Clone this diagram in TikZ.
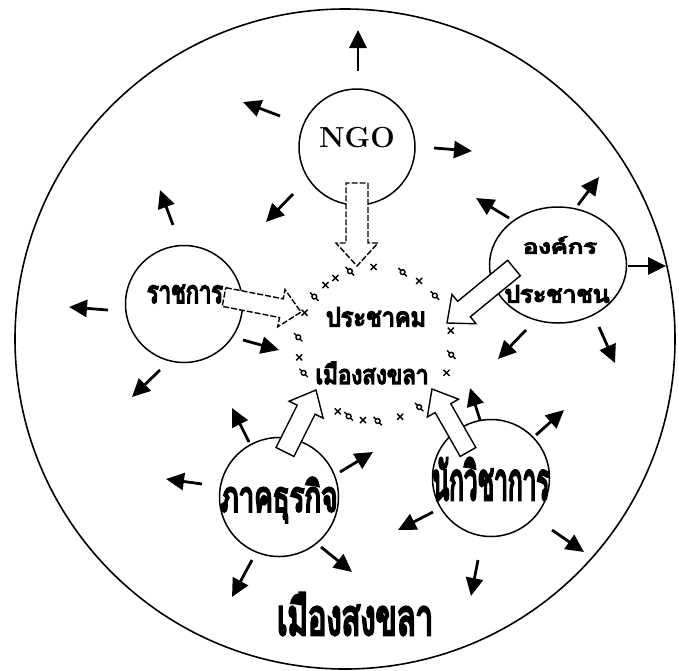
\documentclass[tikz,border=0pt]{standalone}
\usepackage{fontspec}
\usepackage{graphicx}
\usetikzlibrary{arrows.meta,calc,shapes.geometric}
\newfontfamily\thaifont[Script=Thai, FakeBold=6]{Loma}
\newcommand{\thl}[3]{\resizebox{#1pt}{#2pt}{\thaifont #3}}
\newcommand{\hollowarr}[6][]{%
  \coordinate (hb) at ($(#3)!#6!(#2)$);
  \draw[blockarr,#1] ($(#2)!#4!90:(#3)$) -- ($(hb)!#4!90:(#3)$) -- ($(hb)!#5!90:(#3)$) -- (#3)
    -- ($(hb)!#5!-90:(#3)$) -- ($(hb)!#4!-90:(#3)$) -- ($(#2)!#4!-90:(#3)$) -- cycle;
}
\tikzset{
  org/.style={draw, circle, line width=1.5pt, inner sep=0pt},
  outarr/.style={line width=2.8pt, -{Triangle[length=18pt,width=17pt]}},
  blockarr/.style={draw, fill=white, line width=1.4pt, line join=miter},
  dashedge/.style={dash pattern=on 6pt off 2pt},
  lbl/.style={inner sep=0pt},
  ringmark/.style={line width=1.4pt}
}
\begin{document}
\begin{tikzpicture}[x=1pt,y=-1pt]
\useasboundingbox (0,0) rectangle (679,670);
\fill[white] (0,0) rectangle (679,670);
% city boundary
\node[draw, circle, line width=1.6pt, minimum size=660pt, inner sep=0pt] (city) at (345,339) {};
% actor circles
\node[org, minimum size=116pt] (ngo) at (357,147) {};
\node[org, minimum size=117pt] (rat) at (184,304) {};
\node[org, ellipse, minimum width=137pt, minimum height=116pt] (ong) at (558,265) {};
\node[org, minimum size=119pt] (pak) at (279,497) {};
\node[org, minimum size=117pt] (nak) at (491,478) {};
\coordinate (core) at (375,344);
% ring of marks around the core
\foreach \a in {-121,-91,-55,-10,22,71,99,119,170,-156,-130}{
  \draw[ringmark] ($(core)+(\a:77)$) +(-3,-3) -- +(3,3) +(-3,3) -- +(3,-3);
}
\foreach \a in {-109,-69,-39,8,55,88,110,158,-175,-142}{
  \draw[ringmark] ($(core)+(\a:77)$) circle (2.4);
  \draw[ringmark] ($(core)+(\a:77)$) +(-4.2,-4.2) -- +(-1.8,-1.8) +(4.2,4.2) -- +(1.8,1.8);
}
% hollow arrows into the core
\coordinate (ngoA) at (357,183); \coordinate (ngoB) at (357,266);
\coordinate (ratA) at (224,297); \coordinate (ratB) at (301,312);
\coordinate (ongA) at (514,268); \coordinate (ongB) at (447,323);
\coordinate (pakA) at (285,452); \coordinate (pakB) at (316,390);
\coordinate (nakA) at (468,452); \coordinate (nakB) at (432,389);
\hollowarr[dashedge]{ngoA}{ngoB}{11pt}{21pt}{23pt}
\hollowarr[dashedge]{ratA}{ratB}{9.5pt}{19pt}{20pt}
\hollowarr{ongA}{ongB}{10pt}{19pt}{22pt}
\hollowarr{pakA}{pakB}{10pt}{19pt}{22pt}
\hollowarr{nakA}{nakB}{9pt}{18pt}{22pt}
% labels
\node[lbl, font=\fontsize{29}{29}\selectfont\bfseries] (ngoT) at (357,138) {NGO};
\node[lbl] (ratT) at (185,294) {\thl{76}{18}{ราชการ}};
\node[lbl] (ongT1) at (560,245) {\thl{74}{17}{องค์กร}};
\node[lbl] (ongT2) at (557,294) {\thl{105}{17}{ประชาชน}};
\node[lbl] (coreT1) at (376,317) {\thl{100}{19}{ประชาคม}};
\node[lbl] (coreT2) at (372,373) {\thl{113}{22}{เมืองสงขลา}};
\node[lbl] (pakT) at (279,500) {\thl{117}{34}{ภาคธุรกิจ}};
\node[lbl] (nakT) at (491,479) {\thl{117}{42}{นักวิชาการ}};
\node[lbl] (cityT) at (355,614) {\thl{156}{42}{เมืองสงขลา}};
% outward spreading arrows
\foreach \ax/\ay/\bx/\by [count=\i] in {
  358/71/358/30, 280/116/243/102, 434/148/472/151, 293/194/266/222,
  173/225/160/190, 108/310/69/307, 243/340/279/350, 160/370/132/397,
  509/218/476/198, 578/205/599/177, 628/266/666/266, 526/330/498/359,
  599/327/615/363, 249/442/232/408, 202/484/166/479, 340/472/373/452,
  252/560/232/597, 321/547/352/572, 480/420/470/388, 536/435/564/410,
  433/512/398/530, 552/530/584/552, 478/560/471/596}{
  \coordinate (oa\i) at (\ax,\ay);
  \coordinate (ob\i) at (\bx,\by);
  \draw[outarr] (oa\i) -- (ob\i);
}
\end{tikzpicture}
\end{document}
